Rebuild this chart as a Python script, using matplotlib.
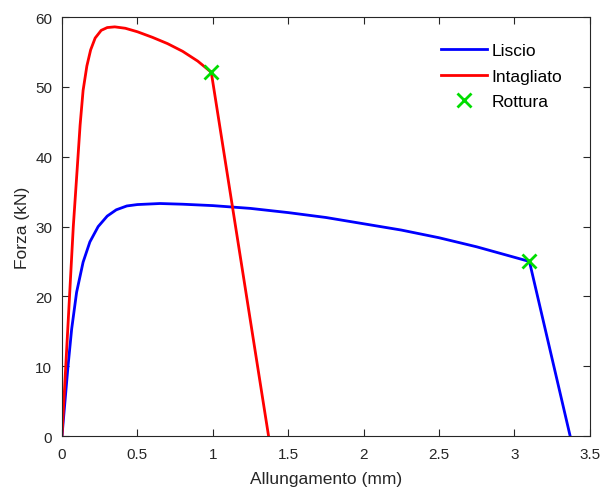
import matplotlib
matplotlib.use("Agg")
from matplotlib import pyplot as plt
from matplotlib.ticker import FormatStrFormatter

plt.rcParams['font.family'] = ['Liberation Sans', 'DejaVu Sans']

# curve "Liscio"
liscio_x = [0, 0.02, 0.04, 0.064, 0.097, 0.14, 0.185, 0.24, 0.3, 0.36, 0.43, 0.5, 0.65, 0.8,
            1.0, 1.25, 1.5, 1.75, 2.0, 2.25, 2.5, 2.75, 3.0, 3.1, 3.37]
liscio_y = [0, 5, 10, 15.3, 20.6, 24.9, 27.8, 30.0, 31.5, 32.4, 32.95, 33.15, 33.3, 33.2,
            33.0, 32.6, 32.0, 31.3, 30.4, 29.5, 28.4, 27.1, 25.6, 25.0, 0]

# curve "Intagliato"
intagliato_x = [0, 0.025, 0.05, 0.075, 0.1, 0.12, 0.14, 0.165, 0.19, 0.22, 0.26, 0.3, 0.35,
                0.42, 0.5, 0.6, 0.7, 0.8, 0.9, 0.99, 1.37]
intagliato_y = [0, 10, 20, 30, 38, 44.5, 49.5, 53, 55.3, 57, 58.1, 58.5, 58.6,
                58.4, 57.9, 57.1, 56.2, 55.1, 53.7, 52.1, 0]

# break points
rottura_x = [0.99, 3.1]
rottura_y = [52.1, 25.0]

fig = plt.figure(figsize=(6.03, 4.89), dpi=100)
ax = fig.add_axes([0.1028, 0.1063, 0.8752, 0.8567])

ax.plot(liscio_x, liscio_y, color='#0000ff', lw=2, label='Liscio')
ax.plot(intagliato_x, intagliato_y, color='#ff0000', lw=2, label='Intagliato')
ax.plot(rottura_x, rottura_y, 'x', color='#00dd00', ms=10, mew=2, label='Rottura', zorder=5)

ax.set_xlim(0, 3.5)
ax.set_ylim(0, 60)
ax.set_xticks([0, 0.5, 1, 1.5, 2, 2.5, 3, 3.5])
ax.set_yticks([0, 10, 20, 30, 40, 50, 60])
ax.xaxis.set_major_formatter(FormatStrFormatter('%g'))
ax.tick_params(direction='in', top=True, right=True, labelsize=11,
               colors='#262626', length=5, width=0.8)
ax.tick_params(axis='x', pad=8)
ax.tick_params(axis='y', pad=7)
for s in ax.spines.values():
    s.set_color('#262626')
    s.set_linewidth(0.8)

ax.set_xlabel('Allungamento (mm)', fontsize=12.5, color='#262626', labelpad=7)
ax.set_ylabel('Forza (kN)', fontsize=12.5, color='#262626', labelpad=4)

ax.legend(loc='upper right', frameon=False, fontsize=12.5, handlelength=2.6,
          handletextpad=0.3, labelspacing=0.6, bbox_to_anchor=(0.978, 0.975))

fig.savefig('out.png', dpi=100)
